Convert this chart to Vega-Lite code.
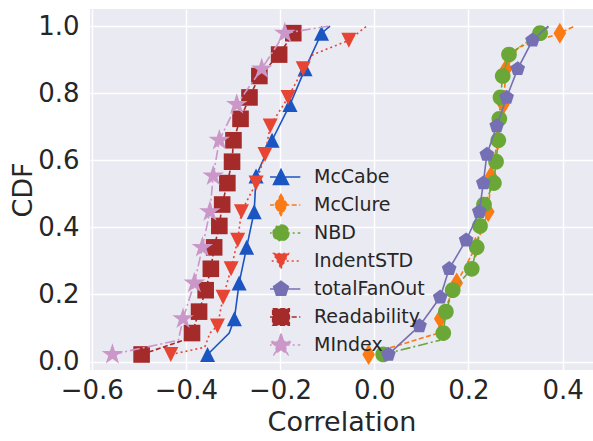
{
  "$schema": "https://vega.github.io/schema/vega-lite/v6.json",
  "width": 503,
  "height": 361,
  "autosize": {"type": "none"},
  "padding": {"left": 90, "top": 9, "right": 0, "bottom": 71},
  "background": "white",
  "config": {
    "view": {"fill": "#EAEAF2", "stroke": null},
    "font": "DejaVu Sans",
    "axis": {
      "domain": false,
      "ticks": false,
      "grid": true,
      "gridColor": "#FFFFFF",
      "gridWidth": 1.4,
      "labelFont": "DejaVu Sans",
      "labelFontSize": 26,
      "labelColor": "#262626",
      "labelFlush": false,
      "labelOverlap": false,
      "labelExpr": "replace(format(datum.value, '.1f'), '-', '\u2212')",
      "titleFont": "DejaVu Sans",
      "titleFontSize": 27,
      "titleFontWeight": "normal",
      "titleColor": "#262626"
    }
  },
  "datasets": {
    "curve": [
      {"series": "McCabe", "corr": -0.354, "cdf": 0.0213},
      {"series": "McCabe", "corr": -0.308, "cdf": 0.0851},
      {"series": "McCabe", "corr": -0.297, "cdf": 0.1277},
      {"series": "McCabe", "corr": -0.287, "cdf": 0.2340},
      {"series": "McCabe", "corr": -0.271, "cdf": 0.3404},
      {"series": "McCabe", "corr": -0.255, "cdf": 0.4468},
      {"series": "McCabe", "corr": -0.251, "cdf": 0.5532},
      {"series": "McCabe", "corr": -0.217, "cdf": 0.6596},
      {"series": "McCabe", "corr": -0.179, "cdf": 0.7660},
      {"series": "McCabe", "corr": -0.147, "cdf": 0.8723},
      {"series": "McCabe", "corr": -0.112, "cdf": 0.9787},
      {"series": "McCabe", "corr": -0.094, "cdf": 1.0},

      {"series": "McClure", "corr": -0.012, "cdf": 0.0213},
      {"series": "McClure", "corr": 0.136, "cdf": 0.0851},
      {"series": "McClure", "corr": 0.140, "cdf": 0.1277},
      {"series": "McClure", "corr": 0.175, "cdf": 0.2340},
      {"series": "McClure", "corr": 0.215, "cdf": 0.3404},
      {"series": "McClure", "corr": 0.242, "cdf": 0.4468},
      {"series": "McClure", "corr": 0.248, "cdf": 0.5532},
      {"series": "McClure", "corr": 0.262, "cdf": 0.6596},
      {"series": "McClure", "corr": 0.274, "cdf": 0.7660},
      {"series": "McClure", "corr": 0.280, "cdf": 0.8723},
      {"series": "McClure", "corr": 0.305, "cdf": 0.9362},
      {"series": "McClure", "corr": 0.394, "cdf": 0.9787},
      {"series": "McClure", "corr": 0.426, "cdf": 1.0},

      {"series": "NBD", "corr": 0.019, "cdf": 0.0213},
      {"series": "NBD", "corr": 0.139, "cdf": 0.0638},
      {"series": "NBD", "corr": 0.1465, "cdf": 0.0851},
      {"series": "NBD", "corr": 0.152, "cdf": 0.1489},
      {"series": "NBD", "corr": 0.1665, "cdf": 0.2128},
      {"series": "NBD", "corr": 0.207, "cdf": 0.2766},
      {"series": "NBD", "corr": 0.2175, "cdf": 0.3404},
      {"series": "NBD", "corr": 0.2245, "cdf": 0.4043},
      {"series": "NBD", "corr": 0.233, "cdf": 0.4681},
      {"series": "NBD", "corr": 0.254, "cdf": 0.5319},
      {"series": "NBD", "corr": 0.2585, "cdf": 0.5957},
      {"series": "NBD", "corr": 0.2633, "cdf": 0.6596},
      {"series": "NBD", "corr": 0.2655, "cdf": 0.7234},
      {"series": "NBD", "corr": 0.268, "cdf": 0.7872},
      {"series": "NBD", "corr": 0.2727, "cdf": 0.8511},
      {"series": "NBD", "corr": 0.286, "cdf": 0.9149},
      {"series": "NBD", "corr": 0.352, "cdf": 0.9787},
      {"series": "NBD", "corr": 0.373, "cdf": 1.0},

      {"series": "IndentSTD", "corr": -0.432, "cdf": 0.0213},
      {"series": "IndentSTD", "corr": -0.360, "cdf": 0.0426},
      {"series": "IndentSTD", "corr": -0.349, "cdf": 0.0851},
      {"series": "IndentSTD", "corr": -0.333, "cdf": 0.1064},
      {"series": "IndentSTD", "corr": -0.321, "cdf": 0.1915},
      {"series": "IndentSTD", "corr": -0.304, "cdf": 0.2766},
      {"series": "IndentSTD", "corr": -0.290, "cdf": 0.3617},
      {"series": "IndentSTD", "corr": -0.282, "cdf": 0.4468},
      {"series": "IndentSTD", "corr": -0.251, "cdf": 0.5319},
      {"series": "IndentSTD", "corr": -0.232, "cdf": 0.6170},
      {"series": "IndentSTD", "corr": -0.221, "cdf": 0.7021},
      {"series": "IndentSTD", "corr": -0.183, "cdf": 0.7872},
      {"series": "IndentSTD", "corr": -0.151, "cdf": 0.8723},
      {"series": "IndentSTD", "corr": -0.130, "cdf": 0.9149},
      {"series": "IndentSTD", "corr": -0.054, "cdf": 0.9574},
      {"series": "IndentSTD", "corr": -0.016, "cdf": 1.0},

      {"series": "totalFanOut", "corr": 0.030, "cdf": 0.0213},
      {"series": "totalFanOut", "corr": 0.096, "cdf": 0.1064},
      {"series": "totalFanOut", "corr": 0.140, "cdf": 0.1915},
      {"series": "totalFanOut", "corr": 0.159, "cdf": 0.2766},
      {"series": "totalFanOut", "corr": 0.195, "cdf": 0.3617},
      {"series": "totalFanOut", "corr": 0.223, "cdf": 0.4468},
      {"series": "totalFanOut", "corr": 0.2315, "cdf": 0.5319},
      {"series": "totalFanOut", "corr": 0.239, "cdf": 0.6170},
      {"series": "totalFanOut", "corr": 0.260, "cdf": 0.7021},
      {"series": "totalFanOut", "corr": 0.281, "cdf": 0.7872},
      {"series": "totalFanOut", "corr": 0.3045, "cdf": 0.8723},
      {"series": "totalFanOut", "corr": 0.336, "cdf": 0.9574},
      {"series": "totalFanOut", "corr": 0.3695, "cdf": 1.0},

      {"series": "Readability", "corr": -0.494, "cdf": 0.0213},
      {"series": "Readability", "corr": -0.405, "cdf": 0.0638},
      {"series": "Readability", "corr": -0.387, "cdf": 0.0851},
      {"series": "Readability", "corr": -0.372, "cdf": 0.1489},
      {"series": "Readability", "corr": -0.358, "cdf": 0.2128},
      {"series": "Readability", "corr": -0.347, "cdf": 0.2766},
      {"series": "Readability", "corr": -0.340, "cdf": 0.3404},
      {"series": "Readability", "corr": -0.329, "cdf": 0.4043},
      {"series": "Readability", "corr": -0.323, "cdf": 0.4681},
      {"series": "Readability", "corr": -0.312, "cdf": 0.5319},
      {"series": "Readability", "corr": -0.302, "cdf": 0.5957},
      {"series": "Readability", "corr": -0.299, "cdf": 0.6596},
      {"series": "Readability", "corr": -0.284, "cdf": 0.7234},
      {"series": "Readability", "corr": -0.265, "cdf": 0.7872},
      {"series": "Readability", "corr": -0.244, "cdf": 0.8511},
      {"series": "Readability", "corr": -0.202, "cdf": 0.9149},
      {"series": "Readability", "corr": -0.172, "cdf": 0.9787},
      {"series": "Readability", "corr": -0.165, "cdf": 1.0},

      {"series": "MIndex", "corr": -0.556, "cdf": 0.0213},
      {"series": "MIndex", "corr": -0.416, "cdf": 0.0638},
      {"series": "MIndex", "corr": -0.406, "cdf": 0.1277},
      {"series": "MIndex", "corr": -0.382, "cdf": 0.2340},
      {"series": "MIndex", "corr": -0.365, "cdf": 0.3404},
      {"series": "MIndex", "corr": -0.349, "cdf": 0.4468},
      {"series": "MIndex", "corr": -0.342, "cdf": 0.5532},
      {"series": "MIndex", "corr": -0.329, "cdf": 0.6596},
      {"series": "MIndex", "corr": -0.292, "cdf": 0.7660},
      {"series": "MIndex", "corr": -0.239, "cdf": 0.8723},
      {"series": "MIndex", "corr": -0.190, "cdf": 0.9787},
      {"series": "MIndex", "corr": -0.094, "cdf": 1.0}
    ],
    "markers": [
      {"series": "McCabe", "corr": -0.354, "cdf": 0.0213},
      {"series": "McCabe", "corr": -0.297, "cdf": 0.1277},
      {"series": "McCabe", "corr": -0.287, "cdf": 0.2340},
      {"series": "McCabe", "corr": -0.271, "cdf": 0.3404},
      {"series": "McCabe", "corr": -0.255, "cdf": 0.4468},
      {"series": "McCabe", "corr": -0.251, "cdf": 0.5532},
      {"series": "McCabe", "corr": -0.217, "cdf": 0.6596},
      {"series": "McCabe", "corr": -0.179, "cdf": 0.7660},
      {"series": "McCabe", "corr": -0.147, "cdf": 0.8723},
      {"series": "McCabe", "corr": -0.112, "cdf": 0.9787},

      {"series": "McClure", "corr": -0.012, "cdf": 0.0213},
      {"series": "McClure", "corr": 0.140, "cdf": 0.1277},
      {"series": "McClure", "corr": 0.175, "cdf": 0.2340},
      {"series": "McClure", "corr": 0.215, "cdf": 0.3404},
      {"series": "McClure", "corr": 0.242, "cdf": 0.4468},
      {"series": "McClure", "corr": 0.248, "cdf": 0.5532},
      {"series": "McClure", "corr": 0.262, "cdf": 0.6596},
      {"series": "McClure", "corr": 0.274, "cdf": 0.7660},
      {"series": "McClure", "corr": 0.280, "cdf": 0.8723},
      {"series": "McClure", "corr": 0.394, "cdf": 0.9787},

      {"series": "NBD", "corr": 0.019, "cdf": 0.0213},
      {"series": "NBD", "corr": 0.1465, "cdf": 0.0851},
      {"series": "NBD", "corr": 0.152, "cdf": 0.1489},
      {"series": "NBD", "corr": 0.1665, "cdf": 0.2128},
      {"series": "NBD", "corr": 0.207, "cdf": 0.2766},
      {"series": "NBD", "corr": 0.2175, "cdf": 0.3404},
      {"series": "NBD", "corr": 0.2245, "cdf": 0.4043},
      {"series": "NBD", "corr": 0.233, "cdf": 0.4681},
      {"series": "NBD", "corr": 0.254, "cdf": 0.5319},
      {"series": "NBD", "corr": 0.2585, "cdf": 0.5957},
      {"series": "NBD", "corr": 0.2633, "cdf": 0.6596},
      {"series": "NBD", "corr": 0.2655, "cdf": 0.7234},
      {"series": "NBD", "corr": 0.268, "cdf": 0.7872},
      {"series": "NBD", "corr": 0.2727, "cdf": 0.8511},
      {"series": "NBD", "corr": 0.286, "cdf": 0.9149},
      {"series": "NBD", "corr": 0.352, "cdf": 0.9787},

      {"series": "IndentSTD", "corr": -0.432, "cdf": 0.0213},
      {"series": "IndentSTD", "corr": -0.333, "cdf": 0.1064},
      {"series": "IndentSTD", "corr": -0.321, "cdf": 0.1915},
      {"series": "IndentSTD", "corr": -0.304, "cdf": 0.2766},
      {"series": "IndentSTD", "corr": -0.290, "cdf": 0.3617},
      {"series": "IndentSTD", "corr": -0.282, "cdf": 0.4468},
      {"series": "IndentSTD", "corr": -0.251, "cdf": 0.5319},
      {"series": "IndentSTD", "corr": -0.232, "cdf": 0.6170},
      {"series": "IndentSTD", "corr": -0.221, "cdf": 0.7021},
      {"series": "IndentSTD", "corr": -0.183, "cdf": 0.7872},
      {"series": "IndentSTD", "corr": -0.151, "cdf": 0.8723},
      {"series": "IndentSTD", "corr": -0.054, "cdf": 0.9574},

      {"series": "totalFanOut", "corr": 0.030, "cdf": 0.0213},
      {"series": "totalFanOut", "corr": 0.096, "cdf": 0.1064},
      {"series": "totalFanOut", "corr": 0.140, "cdf": 0.1915},
      {"series": "totalFanOut", "corr": 0.159, "cdf": 0.2766},
      {"series": "totalFanOut", "corr": 0.195, "cdf": 0.3617},
      {"series": "totalFanOut", "corr": 0.223, "cdf": 0.4468},
      {"series": "totalFanOut", "corr": 0.2315, "cdf": 0.5319},
      {"series": "totalFanOut", "corr": 0.239, "cdf": 0.6170},
      {"series": "totalFanOut", "corr": 0.260, "cdf": 0.7021},
      {"series": "totalFanOut", "corr": 0.281, "cdf": 0.7872},
      {"series": "totalFanOut", "corr": 0.3045, "cdf": 0.8723},
      {"series": "totalFanOut", "corr": 0.336, "cdf": 0.9574},

      {"series": "Readability", "corr": -0.494, "cdf": 0.0213},
      {"series": "Readability", "corr": -0.387, "cdf": 0.0851},
      {"series": "Readability", "corr": -0.372, "cdf": 0.1489},
      {"series": "Readability", "corr": -0.358, "cdf": 0.2128},
      {"series": "Readability", "corr": -0.347, "cdf": 0.2766},
      {"series": "Readability", "corr": -0.340, "cdf": 0.3404},
      {"series": "Readability", "corr": -0.329, "cdf": 0.4043},
      {"series": "Readability", "corr": -0.323, "cdf": 0.4681},
      {"series": "Readability", "corr": -0.312, "cdf": 0.5319},
      {"series": "Readability", "corr": -0.302, "cdf": 0.5957},
      {"series": "Readability", "corr": -0.299, "cdf": 0.6596},
      {"series": "Readability", "corr": -0.284, "cdf": 0.7234},
      {"series": "Readability", "corr": -0.265, "cdf": 0.7872},
      {"series": "Readability", "corr": -0.244, "cdf": 0.8511},
      {"series": "Readability", "corr": -0.202, "cdf": 0.9149},
      {"series": "Readability", "corr": -0.172, "cdf": 0.9787},

      {"series": "MIndex", "corr": -0.556, "cdf": 0.0213},
      {"series": "MIndex", "corr": -0.406, "cdf": 0.1277},
      {"series": "MIndex", "corr": -0.382, "cdf": 0.2340},
      {"series": "MIndex", "corr": -0.365, "cdf": 0.3404},
      {"series": "MIndex", "corr": -0.349, "cdf": 0.4468},
      {"series": "MIndex", "corr": -0.342, "cdf": 0.5532},
      {"series": "MIndex", "corr": -0.329, "cdf": 0.6596},
      {"series": "MIndex", "corr": -0.292, "cdf": 0.7660},
      {"series": "MIndex", "corr": -0.239, "cdf": 0.8723},
      {"series": "MIndex", "corr": -0.190, "cdf": 0.9787}
    ]
  },
  "encoding": {
    "x": {
      "field": "corr",
      "type": "quantitative",
      "scale": {"domain": [-0.6036, 0.4644], "nice": false, "zero": false},
      "axis": {"values": [-0.6, -0.4, -0.2, 0, 0.2, 0.4], "title": "Correlation", "labelPadding": 7, "titlePadding": 6}
    },
    "y": {
      "field": "cdf",
      "type": "quantitative",
      "scale": {"domain": [-0.025, 1.0507], "nice": false, "zero": false},
      "axis": {"values": [0, 0.2, 0.4, 0.6, 0.8, 1], "title": "CDF", "labelPadding": 11, "titlePadding": 0}
    },
    "color": {
      "field": "series",
      "type": "nominal",
      "scale": {
        "domain": ["McCabe", "McClure", "NBD", "IndentSTD", "totalFanOut", "Readability", "MIndex"],
        "range": ["#1a55c1", "#fb7a14", "#6aa737", "#e64534", "#7570b3", "#a52a2a", "#cb96c8"]
      },
      "legend": {
        "title": null,
        "orient": "none",
        "legendX": 180,
        "legendY": 154,
        "padding": 0,
        "symbolSize": 400,
        "clipHeight": 28,
        "rowPadding": 0,
        "labelFont": "DejaVu Sans",
        "labelFontSize": 19,
        "labelColor": "#262626",
        "labelOffset": 22,
        "symbolStrokeWidth": 1.6,
        "encode": {
          "symbols": {
            "update": {
              "shape": {"signal": "['M-1.93,0H1.93M0,-0.75L0.75,0.75L-0.75,0.75Z', 'M-1.93,0H1.93M0,-1.05L0.63,0L0,1.05L-0.63,0Z', 'M-1.93,0H1.93M0.785,0A0.785,0.785,0,1,1,-0.785,0A0.785,0.785,0,1,1,0.785,0Z', 'M-1.93,0H1.93M0,0.75L0.75,-0.75L-0.75,-0.75Z', 'M-1.93,0H1.93M0,-0.773L0.735,-0.239L0.454,0.625L-0.454,0.625L-0.735,-0.239Z', 'M-1.93,0H1.93M-0.83,-0.83H0.83V0.83H-0.83Z', 'M-1.93,0H1.93M0,-1.13L0.254,-0.349L1.075,-0.349L0.411,0.133L0.664,0.914L0,0.432L-0.664,0.914L-0.411,0.133L-1.075,-0.349L-0.254,-0.349Z'][indexof(['McCabe', 'McClure', 'NBD', 'IndentSTD', 'totalFanOut', 'Readability', 'MIndex'], datum.value)]"},
              "strokeDash": {"signal": "[[1, 0], [5, 2.5], [10, 3, 2, 3], [2, 3], [1, 0], [5, 2.5], [10, 3, 2, 3]][indexof(['McCabe', 'McClure', 'NBD', 'IndentSTD', 'totalFanOut', 'Readability', 'MIndex'], datum.value)]"},
              "fill": {"signal": "scale('color', datum.value)"},
              "stroke": {"signal": "scale('color', datum.value)"},
              "fillOpacity": {"value": 1},
              "strokeOpacity": {"value": 1},
              "opacity": {"value": 1},
              "size": {"value": 400},
              "strokeWidth": {"value": 1.6}
            }
          }
        }
      }
    }
  },
  "layer": [
    {"data": {"name": "curve"}, "transform": [{"filter": "datum.series === 'McCabe'"}],
     "mark": {"type": "line", "strokeWidth": 1.6}, "encoding": {"order": {"field": "cdf"}}},
    {"data": {"name": "markers"}, "transform": [{"filter": "datum.series === 'McCabe'"}],
     "mark": {"type": "point", "filled": true, "opacity": 1, "size": 400, "strokeWidth": 0, "shape": "M0,-0.75L0.75,0.75L-0.75,0.75Z"}},

    {"data": {"name": "curve"}, "transform": [{"filter": "datum.series === 'McClure'"}],
     "mark": {"type": "line", "strokeWidth": 1.6, "strokeDash": [5, 2.5]}, "encoding": {"order": {"field": "cdf"}}},
    {"data": {"name": "markers"}, "transform": [{"filter": "datum.series === 'McClure'"}],
     "mark": {"type": "point", "filled": true, "opacity": 1, "size": 400, "strokeWidth": 0, "shape": "M0,-1.05L0.63,0L0,1.05L-0.63,0Z"}},

    {"data": {"name": "curve"}, "transform": [{"filter": "datum.series === 'NBD'"}],
     "mark": {"type": "line", "strokeWidth": 1.6, "strokeDash": [10, 3, 2, 3]}, "encoding": {"order": {"field": "cdf"}}},
    {"data": {"name": "markers"}, "transform": [{"filter": "datum.series === 'NBD'"}],
     "mark": {"type": "point", "filled": true, "opacity": 1, "size": 400, "strokeWidth": 0, "shape": "M0.785,0A0.785,0.785,0,1,1,-0.785,0A0.785,0.785,0,1,1,0.785,0Z"}},

    {"data": {"name": "curve"}, "transform": [{"filter": "datum.series === 'IndentSTD'"}],
     "mark": {"type": "line", "strokeWidth": 1.6, "strokeDash": [2, 3]}, "encoding": {"order": {"field": "cdf"}}},
    {"data": {"name": "markers"}, "transform": [{"filter": "datum.series === 'IndentSTD'"}],
     "mark": {"type": "point", "filled": true, "opacity": 1, "size": 400, "strokeWidth": 0, "shape": "M0,0.75L0.75,-0.75L-0.75,-0.75Z"}},

    {"data": {"name": "curve"}, "transform": [{"filter": "datum.series === 'totalFanOut'"}],
     "mark": {"type": "line", "strokeWidth": 1.6}, "encoding": {"order": {"field": "cdf"}}},
    {"data": {"name": "markers"}, "transform": [{"filter": "datum.series === 'totalFanOut'"}],
     "mark": {"type": "point", "filled": true, "opacity": 1, "size": 400, "strokeWidth": 0, "shape": "M0,-0.773L0.735,-0.239L0.454,0.625L-0.454,0.625L-0.735,-0.239Z"}},

    {"data": {"name": "curve"}, "transform": [{"filter": "datum.series === 'Readability'"}],
     "mark": {"type": "line", "strokeWidth": 1.6, "strokeDash": [5, 2.5]}, "encoding": {"order": {"field": "cdf"}}},
    {"data": {"name": "markers"}, "transform": [{"filter": "datum.series === 'Readability'"}],
     "mark": {"type": "point", "filled": true, "opacity": 1, "size": 400, "strokeWidth": 0, "shape": "M-0.83,-0.83H0.83V0.83H-0.83Z"}},

    {"data": {"name": "curve"}, "transform": [{"filter": "datum.series === 'MIndex'"}],
     "mark": {"type": "line", "strokeWidth": 1.6, "strokeDash": [10, 3, 2, 3]}, "encoding": {"order": {"field": "cdf"}}},
    {"data": {"name": "markers"}, "transform": [{"filter": "datum.series === 'MIndex'"}],
     "mark": {"type": "point", "filled": true, "opacity": 1, "size": 400, "strokeWidth": 0, "shape": "M0,-1.13L0.254,-0.349L1.075,-0.349L0.411,0.133L0.664,0.914L0,0.432L-0.664,0.914L-0.411,0.133L-1.075,-0.349L-0.254,-0.349Z"}}
  ]
}
